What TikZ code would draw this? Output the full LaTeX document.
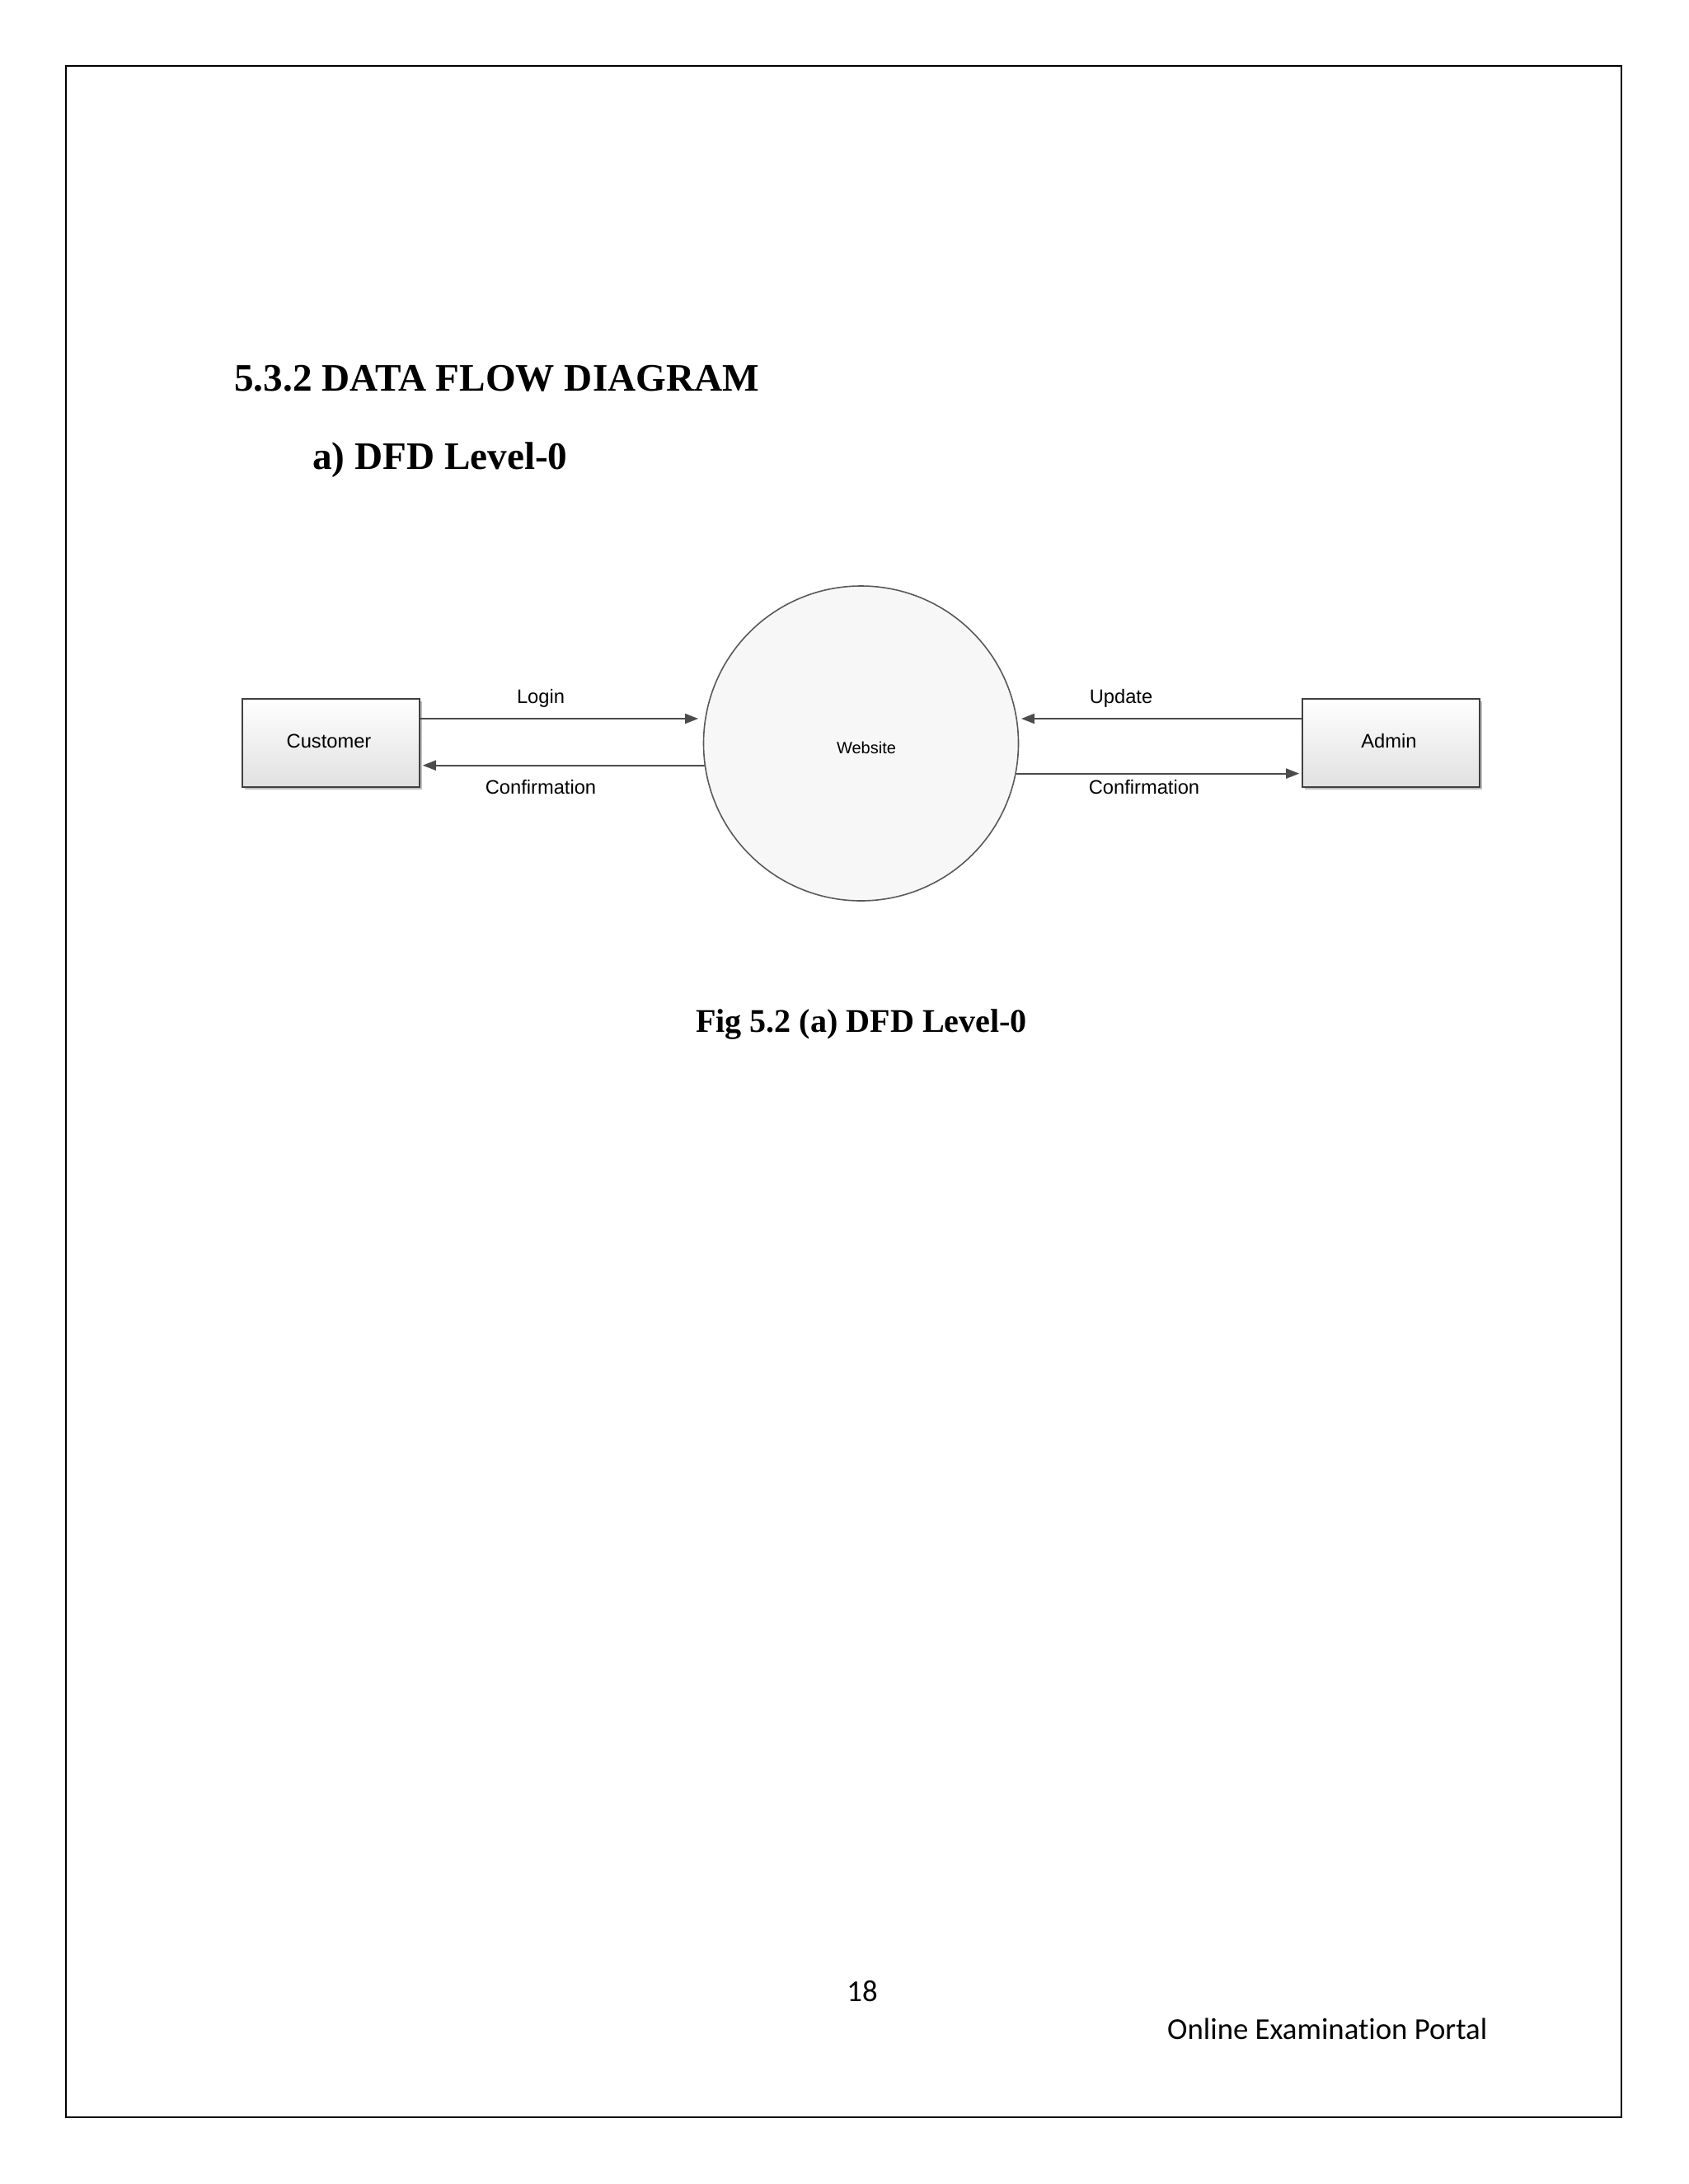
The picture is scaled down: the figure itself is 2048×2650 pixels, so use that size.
\documentclass[tikz,border=0pt]{standalone}
\usepackage{fontspec}
\setmainfont{Liberation Serif}
\newfontfamily\diagfont{Liberation Sans}
\newfontfamily\calib[Ligatures=CommonOff]{Carlito}
\usetikzlibrary{arrows.meta,shadows}
\tikzset{
  entity/.style={draw=black!75, line width=1.6pt, minimum width=215pt, minimum height=107pt, inner sep=0pt,
    top color=white, bottom color=black!12,
    drop shadow={shadow xshift=3pt, shadow yshift=-3pt, opacity=0.25, fill=black}},
  process/.style={circle, draw=black!65, line width=1.6pt, fill=black!3, minimum size=382pt, inner sep=0pt},
  flow/.style={draw=black!70, line width=2pt, -{Triangle[length=16pt,width=12pt]}},
  lbl/.style={font=\diagfont\fontsize{23.7}{28}\selectfont, inner sep=0pt, anchor=base},
  heading/.style={font=\bfseries\fontsize{47.2}{56}\selectfont, inner sep=0pt, anchor=base west},
  caption/.style={font=\bfseries\fontsize{40.1}{48}\selectfont, inner sep=0pt, anchor=base},
  footer/.style={font=\calib\fontsize{36.8}{44}\selectfont, inner sep=0pt}
}
\begin{document}
\begin{tikzpicture}[x=1pt,y=-1pt]
\useasboundingbox (0,0) rectangle (2048,2650);
\fill[white] (0,0) rectangle (2048,2650);
\draw[line width=2.5pt] (80,80) rectangle (1967,2569);

\node[heading] (h1) at (284,474) {5.3.2 DATA FLOW DIAGRAM};
\node[heading] (h2) at (379,569) {a) DFD Level-0};

\node[entity] (cust) at (401.5,901.5) {};
\node[lbl] (custt) at (399,907.5) {Customer};
\node[entity] (adm) at (1687.5,901.5) {};
\node[lbl] (admt) at (1685,907.5) {Admin};
\node[process] (web) at (1044.5,902) {};
\node[lbl, font=\diagfont\fontsize{20}{24}\selectfont] (webt) at (1051,914) {Website};

\draw[flow, shorten >=8pt] (cust.east |- web.171.6) -- (web.171.6);
\draw[flow, shorten >=3pt] (web.188.7) -- (cust.east |- web.188.7);
\draw[flow, shorten >=5pt] (adm.west |- web.9.6) -- (web.9.6);
\draw[flow, shorten >=3pt] (web.-11.5) -- (adm.west |- web.-11.5);

\node[lbl] (l1) at (656,853.5) {Login};
\node[lbl] (l2) at (656,963.5) {Confirmation};
\node[lbl] (l3) at (1360,853.5) {Update};
\node[lbl] (l4) at (1388,963.5) {Confirmation};

\node[caption] (cap) at (1045,1252) {Fig 5.2 (a) DFD Level-0};

\node[footer, anchor=base] (pg) at (1046,2428) {18};
\node[footer, anchor=base west] (ft) at (1416,2474) {Online Examination Portal};
\end{tikzpicture}
\end{document}
